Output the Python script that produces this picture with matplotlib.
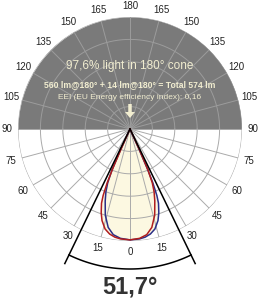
import numpy as np
import matplotlib
matplotlib.use('Agg')
import matplotlib.pyplot as plt
from matplotlib.patches import FancyArrow

plt.rcParams['font.family'] = ['Liberation Sans', 'DejaVu Sans']

# photometric profile, wide side and narrow side (angle from nadir, relative intensity)
wide_ang = [0, 5, 8, 11, 14, 17, 19, 21, 22, 23, 23.6, 24, 24.3]
wide_r = [0.99, 0.985, 0.975, 0.955, 0.92, 0.855, 0.79, 0.71, 0.64, 0.52, 0.38, 0.2, 0.0]
narrow_ang = [0, 5, 9, 12.5, 16, 19, 21, 22.5, 23.7, 24.5, 25]
narrow_r = [0.99, 0.98, 0.955, 0.9, 0.8, 0.68, 0.6, 0.52, 0.4, 0.2, 0.0]

beam_angle = 51.7
tick_angles = list(range(0, 181, 15))
ring_values = [0.2, 0.4, 0.6, 0.8, 1.0]

title = '51,7°'
line1 = '97,6% light in 180° cone'
line2 = '560 lm@180° + 14 lm@180° = Total 574 lm'
line3 = 'EEI (EU Energy efficiency index): 0,16'

cream = '#fcf8e1'
txt_cream = '#f1edd0'
gray_fill = '#7a7a7a'
grid_lo = '#aaaaaa'
grid_hi = '#9c9c9c'


def curve(left_ang, left_r, right_ang, right_r):
    th = [-a for a in left_ang[::-1]] + list(right_ang[1:])
    r = list(left_r[::-1]) + list(right_r[1:])
    return np.radians(th), np.array(r)


fig = plt.figure(figsize=(2.61, 3.0), dpi=100)
R = 112
cx, cy = 130, 129
ax = fig.add_axes([(cx - R) / 261, (300 - cy - R) / 300, 2 * R / 261, 2 * R / 300], projection='polar')
ax.set_theta_zero_location('S')
ax.set_theta_direction(1)
ax.set_ylim(0, 1)
ax.grid(False)
ax.set_xticks([])
ax.set_yticks([])
ax.spines['polar'].set_visible(False)
ax.patch.set_alpha(0)

# gray upper half
t_up = np.linspace(np.pi / 2, 3 * np.pi / 2, 200)
ax.fill_between(t_up, 0, 1, color=gray_fill, zorder=0, linewidth=0)

# cream fill of the curves
th_red, r_red = curve(wide_ang, wide_r, narrow_ang, narrow_r)
th_blue, r_blue = curve(narrow_ang, narrow_r, wide_ang, wide_r)
ax.fill(th_red, r_red, color=cream, zorder=1, linewidth=0)
ax.fill(th_blue, r_blue, color=cream, zorder=1, linewidth=0)

# grid
t_lo = np.linspace(-np.pi / 2, np.pi / 2, 200)
for rv in ring_values:
    ax.plot(t_lo, [rv] * len(t_lo), color=grid_lo, lw=0.7, zorder=2)
    ax.plot(t_up, [rv] * len(t_up), color=grid_hi, lw=0.7, zorder=2)
for a in range(0, 360, 15):
    c = grid_hi if 90 < a < 270 else grid_lo
    ax.plot([np.radians(a)] * 2, [0, 1], color=c, lw=0.7, zorder=2)

# curves
ax.plot(th_blue, r_blue, color='#2b2f86', lw=1.1, zorder=3)
ax.plot(th_red, r_red, color='#b01e1e', lw=1.1, zorder=3)

# beam angle lines and arc
half = np.radians(beam_angle / 2)
for s in (-1, 1):
    ax.plot([s * half] * 2, [0, 1.335], color='black', lw=1.1, zorder=4, clip_on=False)
t_arc = np.linspace(-half, half, 100)
ax.plot(t_arc, [1.25] * len(t_arc), color='black', lw=1.1, zorder=4, clip_on=False)

# angle labels
for a in tick_angles:
    sides = [a] if a in (0, 180) else [a, -a]
    for s in sides:
        ax.text(np.radians(s), 1.10, str(a), ha='center', va='center', fontsize=7,
                color='#222222', clip_on=False)

fig.text(0.498, 1 - 66.5 / 300, line1, ha='center', va='center', fontsize=8.5, color=txt_cream)
fig.text(0.498, 1 - 85 / 300, line2, ha='center', va='center', fontsize=6.2, color=txt_cream,
         weight='bold')
fig.text(0.498, 1 - 97.5 / 300, line3, ha='center', va='center', fontsize=6, color=txt_cream)
fig.patches.append(FancyArrow(1.30, 1.96, 0, -0.14, width=0.035, head_width=0.1,
                              head_length=0.06, length_includes_head=True,
                              transform=fig.dpi_scale_trans, color=txt_cream, lw=0))

fig.text(0.498, 1 - 287 / 300, title, ha='center', va='center', fontsize=17,
         weight='bold', color='#333333')

fig.savefig('out.png', dpi=100)
